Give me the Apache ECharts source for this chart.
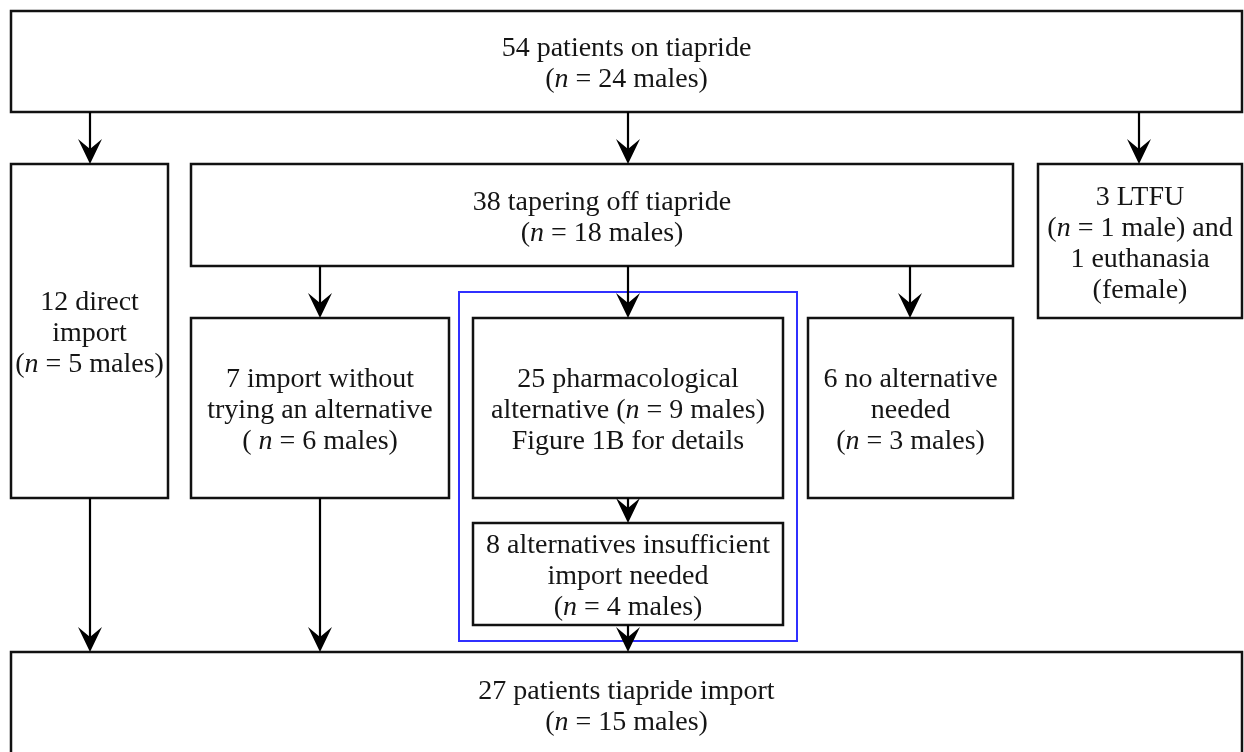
<!DOCTYPE html>
<html>
<head>
<meta charset="utf-8">
<script src="https://cdn.jsdelivr.net/npm/echarts@6/dist/echarts.min.js"></script>
<style>html,body{margin:0;padding:0;background:#fff}#c{width:1244px;height:752px}</style>
</head>
<body>
<div id="c"></div>
<script>
// Flowchart content
const boxLabels = [
  "54 patients on tiapride\n({i|n} = 24 males)",
  "12 direct\nimport\n({i|n} = 5 males)",
  "38 tapering off tiapride\n({i|n} = 18 males)",
  "3 LTFU\n({i|n} = 1 male) and\n1 euthanasia\n(female)",
  "7 import without\ntrying an alternative\n( {i|n} = 6 males)",
  "25 pharmacological\nalternative ({i|n} = 9 males)\nFigure 1B for details",
  "6 no alternative\nneeded\n({i|n} = 3 males)",
  "8 alternatives insufficient\nimport needed\n({i|n} = 4 males)",
  "27 patients tiapride import\n({i|n} = 15 males)"
];
// Box extents in the layout coordinate system (axis units)
const boxLeft   = [11, 11, 191, 1038, 191, 473, 808, 473, 11];
const boxRight  = [1242, 168, 1013, 1242, 449, 783, 1013, 783, 1242];
const boxTop    = [11, 164, 164, 164, 318, 318, 318, 523, 652];
const boxBottom = [112, 498, 266, 318, 498, 498, 498, 625, 757];
// Arrows: x position, start y, end y
const arrowX    = [90, 628, 1139, 320, 628, 910, 628, 90, 320, 628];
const arrowFrom = [112, 112, 112, 266, 266, 266, 498, 498, 498, 625];
const arrowTo   = [164, 164, 164, 318, 318, 318, 523, 652, 652, 652];
// Highlight group frame
const groupLeft = [459], groupRight = [797], groupTop = [292], groupBottom = [641];

const FONT = '"Liberation Serif", "DejaVu Serif", serif';
const chart = echarts.init(document.getElementById('c'), null, {renderer: 'canvas'});

function rectOf(api) {
  const p0 = api.coord([api.value(0), api.value(1)]);
  const p1 = api.coord([api.value(2), api.value(3)]);
  return {x: p0[0], y: p0[1], width: p1[0] - p0[0], height: p1[1] - p0[1]};
}

chart.setOption({
  animation: false,
  backgroundColor: '#fff',
  grid: {left: 0, right: 0, top: 0, bottom: 0},
  xAxis: {type: 'value', min: 0, max: 1244, show: false},
  yAxis: {type: 'value', min: 0, max: 752, inverse: true, show: false},
  series: [
    {
      type: 'custom',
      clip: false,
      data: groupLeft.map((v, i) => [v, groupTop[i], groupRight[i], groupBottom[i]]),
      encode: {x: [0, 2], y: [1, 3]},
      renderItem(params, api) {
        return {type: 'rect', shape: rectOf(api),
          style: {fill: 'none', stroke: '#3030ff', lineWidth: 2}};
      }
    },
    {
      type: 'custom',
      clip: false,
      data: boxLeft.map((v, i) => [v, boxTop[i], boxRight[i], boxBottom[i]]),
      encode: {x: [0, 2], y: [1, 3]},
      renderItem(params, api) {
        const r = rectOf(api);
        return {type: 'group', children: [
          {type: 'rect', shape: r, style: {fill: '#fff', stroke: '#111', lineWidth: 2.5}},
          {type: 'text', x: r.x + r.width / 2, y: r.y + r.height / 2 + 3,
            style: {
              text: boxLabels[params.dataIndex],
              align: 'center', verticalAlign: 'middle',
              fontFamily: FONT, fontSize: 28, lineHeight: 31, fill: '#151515',
              rich: {i: {fontFamily: FONT, fontSize: 28, lineHeight: 31, fontStyle: 'italic', fill: '#151515'}}
            }}
        ]};
      }
    },
    {
      type: 'custom',
      clip: false,
      data: arrowX.map((v, i) => [v, arrowFrom[i], v, arrowTo[i]]),
      encode: {x: [0, 2], y: [1, 3]},
      renderItem(params, api) {
        const a = api.coord([api.value(0), api.value(1)]);
        const b = api.coord([api.value(2), api.value(3)]);
        const x = a[0], tip = b[1];
        return {type: 'group', children: [
          {type: 'line', shape: {x1: x, y1: a[1], x2: x, y2: tip - 12}, style: {stroke: '#000', lineWidth: 2.2}},
          {type: 'polygon', shape: {points: [[x, tip], [x - 12, tip - 25], [x, tip - 15], [x + 12, tip - 25]]},
            style: {fill: '#000', stroke: 'none'}}
        ]};
      }
    }
  ]
});
</script>
</body>
</html>
